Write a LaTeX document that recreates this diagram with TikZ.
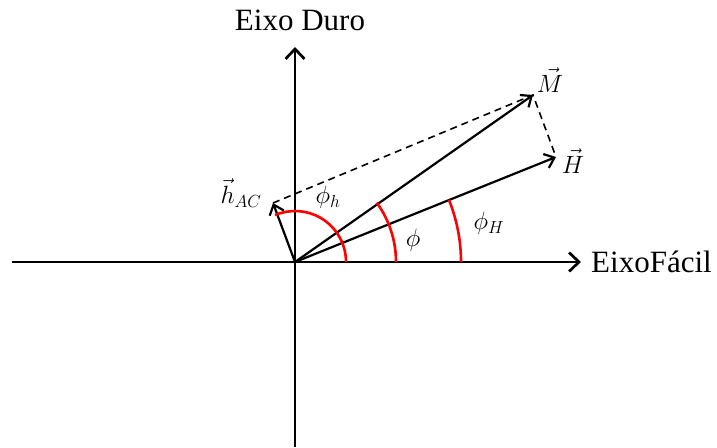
\RequirePackage{fix-cm}
\documentclass[tikz,border=0pt]{standalone}
\usepackage{fontspec}
\setmainfont{Liberation Serif}
\usetikzlibrary{arrows.meta}
\tikzset{
  axis/.style={line width=2.7pt, ->, >={Straight Barb[length=10pt, width=19pt, line width=2.7pt]}},
  vec/.style={line width=2.2pt, ->, >={Straight Barb[length=9pt, width=15pt, line width=2.2pt]}},
  angarc/.style={red, line width=2.6pt},
  helper/.style={line width=1.6pt, dash pattern=on 7pt off 5pt},
  mlab/.style={font=\fontsize{25}{27}\selectfont, inner sep=1pt}
}
\begin{document}
\begin{tikzpicture}[x=1pt, y=-1pt, font=\fontsize{31}{36}\selectfont]
  \useasboundingbox (0,0) rectangle (717,447);
  % ---------------- axes ----------------
  \coordinate (O) at (295,262);
  \coordinate (xl) at (12,262);
  \coordinate (xr) at (581,262);
  \coordinate (yb) at (295,447);
  \coordinate (yt) at (295,47);
  \draw[axis] (xl) -- (xr);
  \draw[axis] (yb) -- (yt);
  \node[anchor=west, inner sep=0pt] (easy) at (591,262) {EixoFácil};
  \node[anchor=south, inner sep=0pt] (hard) at (300,31) {Eixo Duro};
  % ---------------- vectors ----------------
  \coordinate (Mtip) at (533,95);
  \coordinate (Htip) at (556,157);
  \coordinate (htip) at (273,203);
  \draw[helper] (htip) -- (Mtip) -- (Htip);
  \draw[vec] (O) -- (Mtip);
  \draw[vec] (O) -- (Htip);
  \draw[vec] (O) -- (htip);
  \node[mlab] (Mlab) at (550,80) {$\vec{M}$};
  \node[mlab] (Hlab) at (573,161) {$\vec{H}$};
  \node[mlab] (hlab) at (241,193) {$\vec{h}_{AC}$};
  % ---------------- angles ----------------
  \draw[angarc] (O) ++(51,0) arc[start angle=0, end angle=-113, radius=51];
  \draw[angarc] (O) ++(101,0) arc[start angle=0, end angle=-36, radius=101];
  \draw[angarc] (O) ++(166,0) arc[start angle=0, end angle=-22, radius=166];
  \node[mlab] (phih) at (328,197) {$\phi_h$};
  \node[mlab] (phi) at (413,240) {$\phi$};
  \node[mlab] (phiH) at (489,223) {$\phi_H$};
\end{tikzpicture}
\end{document}
